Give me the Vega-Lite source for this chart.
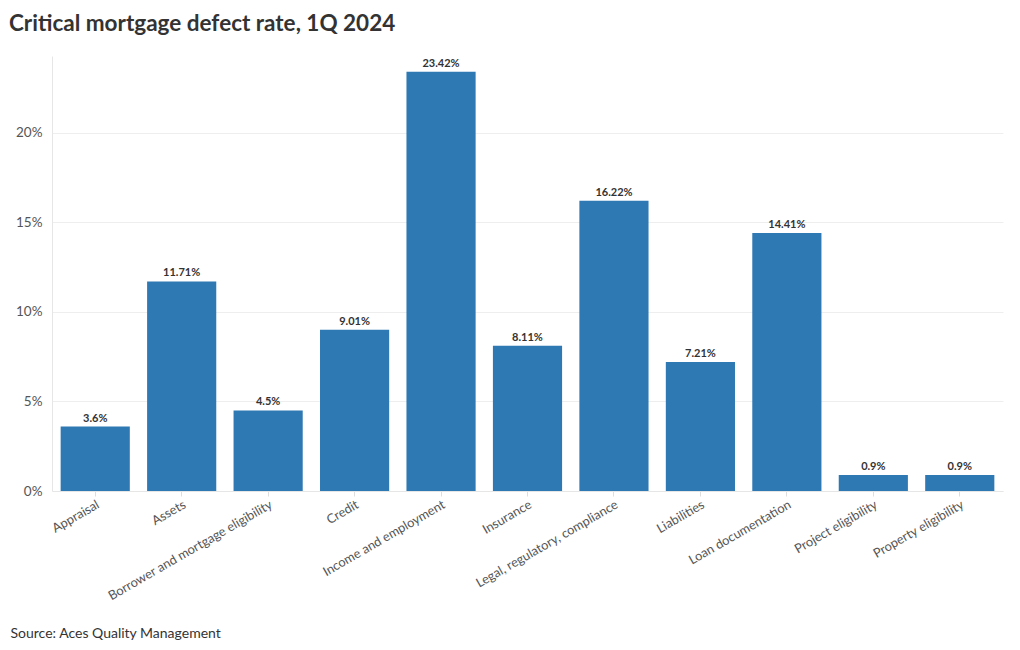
{
  "$schema": "https://vega.github.io/schema/vega-lite/v6.json",
  "width": 951,
  "height": 435,
  "autosize": {"type": "none"},
  "padding": {"left": 52, "top": 56, "right": 17, "bottom": 159},
  "background": "white",
  "config": {
    "font": "Lato",
    "view": {"stroke": null}
  },
  "title": {
    "text": "Critical mortgage defect rate, 1Q 2024",
    "anchor": "start",
    "dx": -1,
    "offset": 21,
    "fontSize": 22.5,
    "fontWeight": "bold",
    "color": "#333333",
    "font": "Lato"
  },
  "data": {
    "values": [
      {"category": "Appraisal", "rate": 0.036},
      {"category": "Assets", "rate": 0.1171},
      {"category": "Borrower and mortgage eligibility", "rate": 0.045},
      {"category": "Credit", "rate": 0.0901},
      {"category": "Income and employment", "rate": 0.2342},
      {"category": "Insurance", "rate": 0.0811},
      {"category": "Legal, regulatory, compliance", "rate": 0.1622},
      {"category": "Liabilities", "rate": 0.0721},
      {"category": "Loan documentation", "rate": 0.1441},
      {"category": "Project eligibility", "rate": 0.009},
      {"category": "Property eligibility", "rate": 0.009}
    ]
  },
  "encoding": {
    "x": {
      "field": "category",
      "type": "nominal",
      "sort": null,
      "scale": {"paddingInner": 0.2, "paddingOuter": 0.1},
      "axis": {
        "title": "Source: Aces Quality Management",
        "titleAnchor": "start",
        "titleAlign": "left",
        "titleBaseline": "alphabetic",
        "titleX": -42,
        "titleY": 146,
        "titleFontSize": 14,
        "titleFontWeight": "normal",
        "titleColor": "#333333",
        "labelAngle": -30,
        "labelFontSize": 12.8,
        "labelColor": "#555555",
        "labelPadding": 2,
        "labelLimit": 400,
        "tickColor": "#dddddd",
        "tickSize": 5,
        "domainColor": "#e6e6e6",
        "grid": false
      }
    },
    "y": {
      "field": "rate",
      "type": "quantitative",
      "scale": {"domain": [0, 0.243], "nice": false},
      "axis": {
        "title": null,
        "format": ".0%",
        "values": [0, 0.05, 0.1, 0.15, 0.2],
        "labelFontSize": 13.5,
        "labelColor": "#555555",
        "labelPadding": 10,
        "ticks": false,
        "domainColor": "#e6e6e6",
        "gridColor": "#eeeeee"
      }
    }
  },
  "layer": [
    {"mark": {"type": "bar", "color": "#2e79b3"}},
    {
      "mark": {"type": "text", "baseline": "bottom", "dy": -3, "fontSize": 11, "fontWeight": "bold", "color": "#333333"},
      "encoding": {"text": {"field": "rate", "type": "quantitative", "format": ".2~%"}}
    }
  ]
}
